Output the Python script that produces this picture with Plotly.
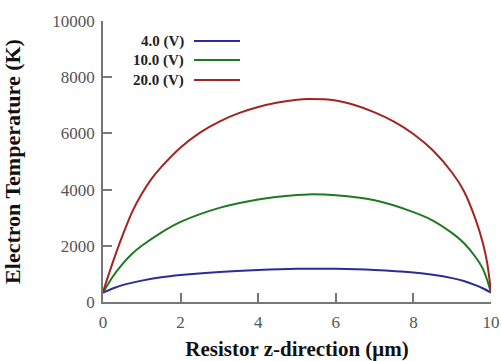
import plotly.graph_objects as go

x_blue = [0, 0.25, 0.5, 1, 1.5, 2, 3, 4, 5, 6, 7, 8, 8.5, 9, 9.3, 9.6, 9.8, 10]
t_blue = [330, 480, 600, 760, 880, 960, 1070, 1140, 1180, 1180, 1140, 1050, 970, 850, 750, 600, 480, 330]

x_green = [0, 0.25, 0.5, 0.75, 1, 1.5, 2, 3, 4, 5, 5.3, 6, 7, 8, 8.5, 9, 9.3, 9.6, 9.8, 10]
t_green = [330, 900, 1350, 1720, 2000, 2470, 2850, 3350, 3650, 3810, 3830, 3800, 3620, 3200, 2900, 2450, 2100, 1600, 1150, 330]

x_red = [0, 0.25, 0.5, 0.75, 1, 1.25, 1.5, 2, 2.5, 3, 3.5, 4, 4.5, 5, 5.3, 6, 6.5, 7, 7.5, 8, 8.5, 9, 9.3, 9.6, 9.8, 9.9, 10]
t_red = [360, 1400, 2350, 3200, 3850, 4380, 4800, 5500, 6030, 6420, 6720, 6940, 7100, 7200, 7220, 7170, 7000, 6750, 6420, 5980, 5400, 4600, 3950, 2950, 2050, 1400, 350]

labels = ["4.0 (V)", "10.0 (V)", "20.0 (V)"]
colors = ["#2b2b9c", "#1f7a1f", "#a12323"]
xs = [x_blue, x_green, x_red]
ts = [t_blue, t_green, t_red]

x_ticks = [0, 2, 4, 6, 8, 10]
y_ticks = [0, 2000, 4000, 6000, 8000, 10000]
y_ticktext = ["0", "2000", "4000", "6000", "8000", "10000"]

FONT = "Liberation Serif"

fig = go.Figure()
for xv, tv, lab, c in zip(xs, ts, labels, colors):
    fig.add_trace(go.Scatter(x=xv, y=tv, mode="lines", name=lab,
                             line=dict(color=c, width=2, shape="spline", smoothing=1.0),
                             showlegend=False))

# manual legend (text left of line sample); positions in plot-area pixels
L, R, T, B = 103, 491, 21, 302
def px(x):
    return (x - L) / (R - L)
def py(y):
    return (B - y) / (B - T)

leg_y = [41, 60, 80]
for lab, c, yy in zip(labels, colors, leg_y):
    fig.add_annotation(x=px(186), y=py(yy), xref="paper", yref="paper", text="<b>" + lab + "</b>",
                       showarrow=False, xanchor="right", yanchor="middle",
                       font=dict(family=FONT, size=15, color="#222"))
    fig.add_shape(type="line", xref="paper", yref="paper", x0=px(194), x1=px(240), y0=py(yy), y1=py(yy),
                  line=dict(color=c, width=2))

axis_common = dict(showgrid=False, zeroline=False, showline=True, linecolor="#777", linewidth=1.5,
                   ticks="inside", ticklen=9, tickcolor="#777", tickwidth=1.5, automargin=False,
                   tickfont=dict(family=FONT, size=17, color="#555"))

fig.update_layout(
    width=501, height=361,
    margin=dict(l=L, r=501 - R, t=T, b=361 - B),
    paper_bgcolor="white", plot_bgcolor="white",
    xaxis=dict(range=[0, 10], tickvals=x_ticks, ticklabelstandoff=4, **axis_common,
               title=dict(text="<b>Resistor z-direction (μm)</b>", font=dict(family=FONT, size=21, color="#111"), standoff=13)),
    yaxis=dict(range=[0, 10000], tickvals=y_ticks, ticktext=y_ticktext, ticklabelstandoff=3, **axis_common,
               title=dict(text="<b>Electron Temperature (K)</b>", font=dict(family=FONT, size=22, color="#111"), standoff=28)),
)

fig.write_html("out.html")
